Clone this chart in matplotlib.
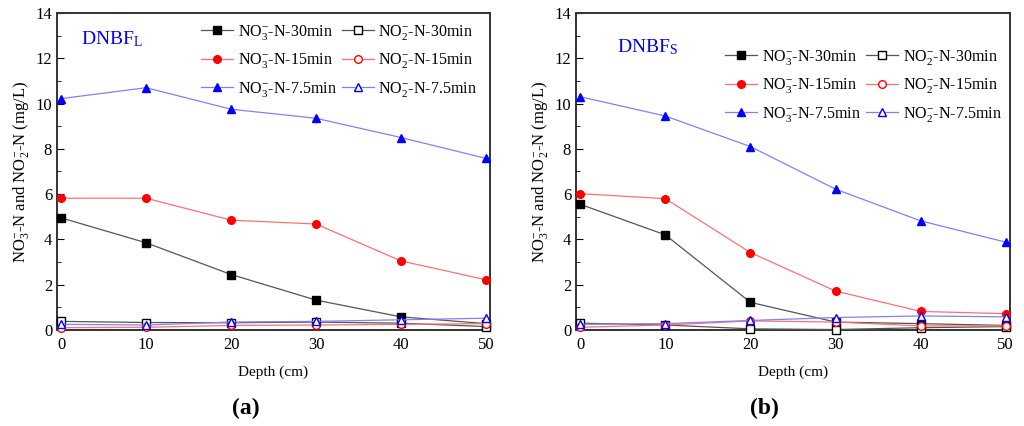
#Nitrate and nitrite profiles along depth for two biofilters, (a) and (b).
import matplotlib
matplotlib.use('Agg')
import matplotlib.pyplot as plt
from matplotlib.ticker import MultipleLocator

plt.rcParams['font.family'] = ['Liberation Serif', 'DejaVu Serif']
plt.rcParams['mathtext.fontset'] = 'custom'
plt.rcParams['mathtext.rm'] = 'Liberation Serif'
plt.rcParams['mathtext.it'] = 'Liberation Serif:italic'
plt.rcParams['mathtext.bf'] = 'Liberation Serif:bold'

depth = [0, 10, 20, 30, 40, 50]

# panel (a) DNBF_L
a_no3_30 = [4.95, 3.85, 2.45, 1.32, 0.58, 0.28]
a_no2_30 = [0.38, 0.33, 0.32, 0.35, 0.30, 0.15]
a_no3_15 = [5.82, 5.82, 4.85, 4.68, 3.05, 2.22]
a_no2_15 = [0.10, 0.12, 0.20, 0.22, 0.25, 0.28]
a_no3_75 = [10.22, 10.70, 9.75, 9.35, 8.50, 7.58]
a_no2_75 = [0.25, 0.22, 0.35, 0.38, 0.45, 0.52]

# panel (b) DNBF_S
b_no3_30 = [5.55, 4.20, 1.22, 0.35, 0.28, 0.20]
b_no2_30 = [0.30, 0.22, 0.05, 0.02, 0.10, 0.15]
b_no3_15 = [6.02, 5.80, 3.42, 1.72, 0.82, 0.72]
b_no2_15 = [0.12, 0.22, 0.40, 0.35, 0.18, 0.18]
b_no3_75 = [10.30, 9.45, 8.10, 6.22, 4.82, 3.88]
b_no2_75 = [0.25, 0.28, 0.42, 0.55, 0.62, 0.58]

labels = [r'NO$_3^{-}$-N-30min', r'NO$_2^{-}$-N-30min',
          r'NO$_3^{-}$-N-15min', r'NO$_2^{-}$-N-15min',
          r'NO$_3^{-}$-N-7.5min', r'NO$_2^{-}$-N-7.5min']

fig = plt.figure(figsize=(10.24, 4.26), dpi=100)
ax1 = fig.add_axes([0.0557, 0.2254, 0.4229, 0.7441])
ax2 = fig.add_axes([0.5625, 0.2254, 0.4238, 0.7441])


def draw(ax, series, title, title_xy, leg_anchor, letter):
    styles = [('black', 's', 'black'), ('black', 's', 'white'),
              ('red', 'o', 'red'), ('red', 'o', 'white'),
              ('blue', '^', 'blue'), ('blue', '^', 'white')]
    handles = []
    for ys, (c, m, fc), lab in zip(series, styles, labels):
        line_c = {'black': '#555555', 'red': '#ff7070', 'blue': '#8080ff'}[c]
        h, = ax.plot(depth, ys, color=line_c, lw=0.9, marker=m, ms=5.5,
                     mfc=fc, mec=c, mew=1.0, label=lab, clip_on=False, zorder=3)
        handles.append(h)
    # legend order: row-wise two columns
    order = [0, 2, 4, 1, 3, 5]
    ax.legend([handles[i] for i in order], [labels[i] for i in order], ncol=2,
              frameon=False, fontsize=11.5, handlelength=2.0, columnspacing=0.3,
              handletextpad=0.3, labelspacing=0.6, loc='upper right',
              bbox_to_anchor=leg_anchor, borderaxespad=0)
    ax.text(title_xy[0], title_xy[1], title, color='blue', fontsize=14,
            transform=ax.transAxes)
    ax.set_xlim(-0.5, 50.5)
    ax.set_ylim(0, 14)
    ax.xaxis.set_major_locator(MultipleLocator(10))
    ax.yaxis.set_major_locator(MultipleLocator(2))
    ax.yaxis.set_minor_locator(MultipleLocator(1))
    ax.tick_params(direction='in', which='both', labelsize=12, top=False, right=False)
    ax.tick_params(which='major', length=5)
    ax.tick_params(which='minor', length=3)
    ax.tick_params(axis='x', pad=5)
    for s in ax.spines.values():
        s.set_linewidth(1.4)
        s.set_color('#333333')
    ax.set_xlabel('Depth (cm)', fontsize=11, labelpad=9)
    ax.set_ylabel(r'NO$_3^{-}$-N and NO$_2^{-}$-N (mg/L)', fontsize=12, labelpad=3)
    ax.text(0.435, -0.246, letter, transform=ax.transAxes, ha='center',
            va='center', fontsize=17, fontweight='bold')


draw(ax1, [a_no3_30, a_no2_30, a_no3_15, a_no2_15, a_no3_75, a_no2_75],
     r'DNBF$_\mathregular{L}$', (0.055, 0.9), (0.985, 0.99), '(a)')
draw(ax2, [b_no3_30, b_no2_30, b_no3_15, b_no2_15, b_no3_75, b_no2_75],
     r'DNBF$_\mathregular{S}$', (0.095, 0.875), (0.995, 0.91), '(b)')

fig.savefig('out.png', dpi=100)
